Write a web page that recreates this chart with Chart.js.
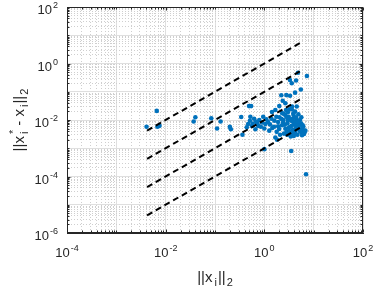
<!DOCTYPE html>
<html>
<head>
<meta charset="utf-8">
<script src="https://cdn.jsdelivr.net/npm/chart.js@4"></script>
<style>
  html, body { margin: 0; padding: 0; background: #fff; }
</style>
</head>
<body>
<canvas id="chart" width="374" height="286"></canvas>
<script>
// tick exponents shown as 10^n labels
const xTickExponents = [-4, -2, 0, 2];
const yTickExponents = [-6, -4, -2, 0, 2];

// ||x_i||_2 values
const normX = [
  0.0041, 0.0066, 0.0068, 0.0075, 0.040, 0.037, 0.084, 0.13, 0.11, 0.20,
  0.21, 0.34, 0.36, 0.49, 0.54, 1.0, 3.5, 7.0, 7.3, 4.8,
  3.3, 3.6, 4.4, 5.5, 4.2, 2.8,
  0.47, 0.44, 0.51, 0.56, 0.62, 0.66, 0.72, 0.79, 0.85, 0.95,
  1.05, 1.19, 1.26, 1.39, 1.43, 1.67, 1.57, 1.78, 1.90, 2.01,
  2.08, 2.28, 2.43, 2.51, 2.67, 2.85, 2.93, 3.12, 3.21, 3.32,
  3.43, 3.65, 3.77, 3.87, 4.0, 4.25, 4.39, 4.54, 4.67, 4.98,
  5.12, 5.29, 5.47, 5.81, 6.17, 6.38, 6.59, 5.62, 2.67, 2.21,
  3.32, 2.36, 2.01, 2.75, 3.65, 4.54, 1.67, 1.81,
  3.0, 3.4, 2.6, 3.1, 3.6, 4.1, 4.6, 5.0, 4.3, 2.9,
  2.4, 2.2, 3.8, 4.8, 5.6, 5.9, 6.2, 3.3, 2.7, 3.9,
  4.4, 1.9, 1.6, 1.3, 1.1, 0.9, 0.75, 0.68, 2.0, 2.5,
  3.5, 4.0, 5.3, 6.8, 6.0, 1.45, 1.75, 2.3, 3.0, 3.6,
  4.2, 4.9, 0.58, 0.52, 1.0, 2.9, 3.95
];
// ||x*_i - x_i||_2 values
const errY = [
  0.0058, 0.021, 0.0058, 0.0062, 0.0125, 0.0088, 0.0115, 0.0088, 0.0050, 0.0057,
  0.0047, 0.0128, 0.0030, 0.031, 0.031, 0.00093, 0.0008, 0.00012, 0.36, 0.47,
  0.26, 0.20, 0.25, 0.12, 0.093, 0.076,
  0.0072, 0.0055, 0.0094, 0.0061, 0.0111, 0.0047, 0.0076, 0.010, 0.0058, 0.0131,
  0.0072, 0.0085, 0.0042, 0.0111, 0.0192, 0.0226, 0.0058, 0.0038, 0.0085, 0.0125,
  0.0030, 0.0065, 0.010, 0.0163, 0.0049, 0.0038, 0.0076, 0.0131, 0.024, 0.0058,
  0.0026, 0.0090, 0.0044, 0.0173, 0.0072, 0.0035, 0.0055, 0.010, 0.0030, 0.0047,
  0.0072, 0.010, 0.0038, 0.0029, 0.0058, 0.0032, 0.0038, 0.0125, 0.039, 0.075,
  0.072, 0.048, 0.031, 0.0226, 0.030, 0.030, 0.0024, 0.0020,
  0.0095, 0.0105, 0.0068, 0.0052, 0.0062, 0.0085, 0.0068, 0.0058, 0.0045, 0.0120,
  0.0082, 0.0110, 0.0110, 0.0090, 0.0075, 0.0048, 0.0035, 0.0040, 0.0140, 0.0150,
  0.0125, 0.0060, 0.0095, 0.0070, 0.0105, 0.0082, 0.0062, 0.0088, 0.0048, 0.0033,
  0.0033, 0.0036, 0.0040, 0.0042, 0.0065, 0.0052, 0.0130, 0.0175, 0.0190, 0.0240,
  0.0200, 0.0160, 0.0075, 0.0130, 0.0050, 0.0030, 0.0027
];

// dashed reference lines
const guideX = [0.0042, 5.8];
const guideY1 = [0.0042, 5.8];
const guideY2 = [0.00042, 0.58];
const guideY3 = [0.000042, 0.058];
const guideY4 = [0.0000042, 0.0058];

const FONT = '"Liberation Sans", Arial, Helvetica, sans-serif';
const TEXT = "#262626";

const isDecade = (v) => Math.abs(Math.log10(v) - Math.round(Math.log10(v))) < 1e-6;

const logTicks = (lo, hi) => {
  const out = [];
  for (let n = lo; n < hi; n++) {
    for (let k = 1; k <= 9; k++) out.push(Number((k * Math.pow(10, n)).toPrecision(3)));
  }
  out.push(Math.pow(10, hi));
  return out;
};

const toPoints = (xs, ys) => xs.map((x, i) => ({ x, y: ys[i] }));

const guideDataset = (ys) => ({
  data: toPoints(guideX, ys),
  showLine: true,
  borderColor: "#000000",
  borderWidth: 2,
  borderDash: [6, 4],
  pointRadius: 0,
  fill: false,
  order: 0,
});

const axisOptions = (lo, hi) => ({
  type: "logarithmic",
  min: Math.pow(10, lo),
  max: Math.pow(10, hi),
  afterBuildTicks: (scale) => {
    scale.ticks = logTicks(lo, hi).map((value) => ({ value }));
  },
  ticks: { display: false },
  grid: {
    drawTicks: false,
    color: (ctx) => (ctx.tick && isDecade(ctx.tick.value) ? "#dfdfdf" : "#cfcfcf"),
    lineWidth: 1,
  },
  border: {
    display: true,
    color: TEXT,
    width: 1,
    dash: (ctx) => (ctx.tick && !isDecade(ctx.tick.value) ? [1, 2] : []),
  },
});

// measure and place text runs (sub/superscripts)
const layoutRuns = (ctx, runs) => {
  let pos = 0;
  let prevStart = 0;
  const placed = [];
  runs.forEach((r) => {
    ctx.font = `${r.size}px ${FONT}`;
    const w = ctx.measureText(r.t).width;
    const start = r.stack ? prevStart : pos + (r.dx || 0);
    placed.push({ ...r, x: start });
    pos = Math.max(pos, start + w);
    prevStart = start;
  });
  return { placed, width: pos };
};

const drawRuns = (ctx, runs, x, y, align) => {
  const { placed, width } = layoutRuns(ctx, runs);
  const x0 = align === "center" ? x - width / 2 : align === "right" ? x - width : x;
  ctx.textAlign = "left";
  ctx.textBaseline = "alphabetic";
  placed.forEach((r) => {
    ctx.font = `${r.size}px ${FONT}`;
    ctx.fillText(r.t, x0 + r.x, y + (r.dy || 0));
  });
};

const powerRuns = (n) => [
  { t: "10", size: 13 },
  { t: String(n), size: 9, dy: -6, dx: 1 },
];

const xTitleRuns = [
  { t: "||x", size: 15 },
  { t: "i", size: 11, dy: 4, dx: 2 },
  { t: "||", size: 15, dx: 1 },
  { t: "2", size: 11, dy: 4, dx: 1 },
];

const yTitleRuns = [
  { t: "||x", size: 15 },
  { t: "*", size: 11, dy: -7, dx: 2 },
  { t: "i", size: 11, dy: 4, stack: true },
  { t: " - x", size: 15 },
  { t: "i", size: 11, dy: 4, dx: 2 },
  { t: "||", size: 15, dx: 1 },
  { t: "2", size: 11, dy: 4, dx: 1 },
];

const matlabAxes = {
  id: "matlabAxes",
  afterDraw(chart) {
    const { ctx, chartArea: a, scales } = chart;
    const L = Math.round(a.left) + 0.5;
    const R = Math.round(a.right) - 0.5;
    const T = Math.round(a.top) + 0.5;
    const B = Math.round(a.bottom) - 0.5;
    ctx.save();
    ctx.strokeStyle = TEXT;
    ctx.lineWidth = 1;
    ctx.setLineDash([]);
    ctx.strokeRect(L, T, R - L, B - T);

    // inward tick marks
    ctx.beginPath();
    scales.x.ticks.forEach((t) => {
      const p = Math.round(scales.x.getPixelForValue(t.value)) + 0.5;
      const major = xTickExponents.includes(Math.round(Math.log10(t.value))) && isDecade(t.value);
      const len = major ? 3 : 2;
      ctx.moveTo(p, B); ctx.lineTo(p, B - len);
      ctx.moveTo(p, T); ctx.lineTo(p, T + len);
    });
    scales.y.ticks.forEach((t) => {
      const p = Math.round(scales.y.getPixelForValue(t.value)) + 0.5;
      const major = yTickExponents.includes(Math.round(Math.log10(t.value))) && isDecade(t.value);
      const len = major ? 3 : 2;
      ctx.moveTo(L, p); ctx.lineTo(L + len, p);
      ctx.moveTo(R, p); ctx.lineTo(R - len, p);
    });
    ctx.stroke();

    // tick labels
    ctx.fillStyle = TEXT;
    xTickExponents.forEach((n) => {
      const px = scales.x.getPixelForValue(Math.pow(10, n));
      drawRuns(ctx, powerRuns(n), px, a.bottom + 24, "center");
    });
    yTickExponents.forEach((n) => {
      const py = scales.y.getPixelForValue(Math.pow(10, n));
      drawRuns(ctx, powerRuns(n), a.left - 9, py + 7, "right");
    });

    // axis titles
    drawRuns(ctx, xTitleRuns, (a.left + a.right) / 2, 282, "center");
    ctx.translate(24, (a.top + a.bottom) / 2);
    ctx.rotate(-Math.PI / 2);
    drawRuns(ctx, yTitleRuns, 0, 0, "center");
    ctx.restore();
  },
};

new Chart(document.getElementById("chart"), {
  type: "scatter",
  data: {
    datasets: [
      {
        data: toPoints(normX, errY),
        backgroundColor: "#0072BD",
        borderWidth: 0,
        pointRadius: 2.3,
        order: 1,
      },
      guideDataset(guideY1),
      guideDataset(guideY2),
      guideDataset(guideY3),
      guideDataset(guideY4),
    ],
  },
  options: {
    responsive: false,
    animation: false,
    layout: { padding: { left: 67, right: 11, top: 7, bottom: 53 } },
    plugins: { legend: { display: false }, tooltip: { enabled: false } },
    scales: {
      x: axisOptions(-4, 2),
      y: axisOptions(-6, 2),
    },
  },
  plugins: [matlabAxes],
});
</script>
</body>
</html>
